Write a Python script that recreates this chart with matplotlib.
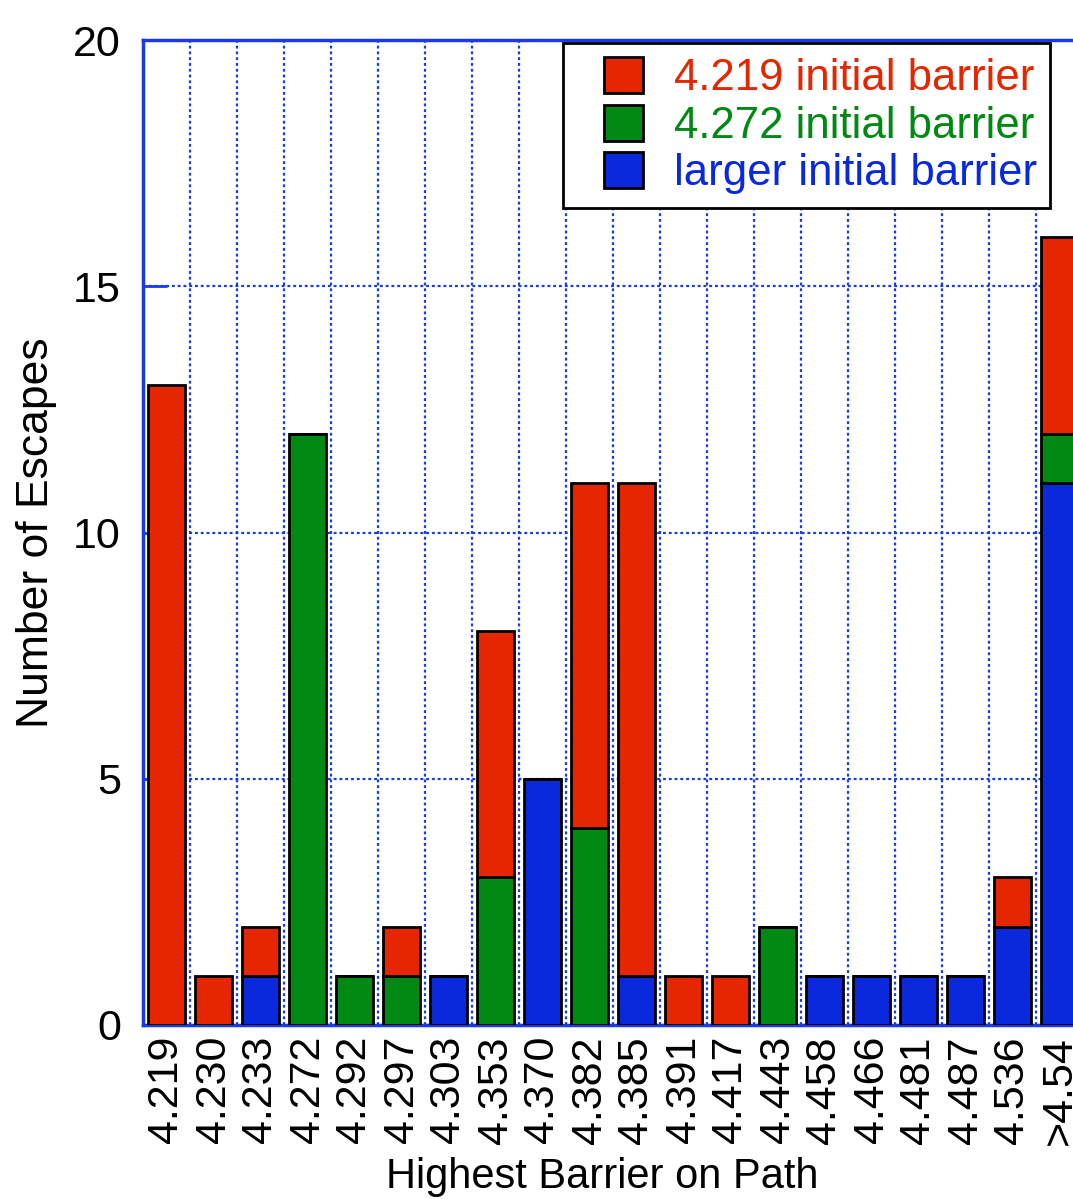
import numpy as np
import matplotlib
matplotlib.use("Agg")
import matplotlib.pyplot as plt
from matplotlib.patches import Rectangle
from matplotlib.ticker import MultipleLocator, FixedLocator

plt.rcParams['font.family'] = ['Liberation Sans', 'DejaVu Sans']

# Escape counts per highest barrier, split by initial barrier
barriers = ["4.219", "4.230", "4.233", "4.272", "4.292", "4.297", "4.303",
            "4.353", "4.370", "4.382", "4.385", "4.391", "4.417", "4.443",
            "4.458", "4.466", "4.481", "4.487", "4.536", ">4.54"]
larger_init = [0, 0, 1, 0, 0, 0, 1, 0, 5, 0, 1, 0, 0, 0, 1, 1, 1, 1, 2, 11]
init_4272 = [0, 0, 0, 12, 1, 1, 0, 3, 0, 4, 0, 0, 0, 2, 0, 0, 0, 0, 0, 1]
init_4219 = [13, 1, 1, 0, 0, 1, 0, 5, 0, 7, 10, 1, 1, 0, 0, 0, 0, 0, 1, 4]

RED = "#E62600"
GREEN = "#008A14"
BLUE = "#0A28DC"
GRID = "#1A3BE8"

W, H = 1073, 1199
fig = plt.figure(figsize=(W / 100, H / 100), dpi=100)
# axes runs slightly past the right edge of the figure
ax = fig.add_axes([143 / W, 1 - 1025 / H, 940 / W, 985 / H])

x = np.arange(len(barriers))
b = np.array(larger_init)
g = np.array(init_4272)
r = np.array(init_4219)

kw = dict(width=0.8, edgecolor="black", linewidth=2, zorder=3)
ax.bar(x, b, color=BLUE, label="larger initial barrier", **kw)
ax.bar(x, g, bottom=b, color=GREEN, label="4.272 initial barrier", **kw)
ax.bar(x, r, bottom=b + g, color=RED, label="4.219 initial barrier", **kw)

ax.set_xlim(-0.5, len(barriers) - 0.5)
ax.set_ylim(0, 20)

# grid on category boundaries and every 5 escapes
ax.xaxis.set_minor_locator(FixedLocator(np.arange(0.5, len(barriers) - 1, 1)))
ax.yaxis.set_major_locator(MultipleLocator(5))
dots = (0, (1.3, 1.3))
ax.grid(True, which="minor", axis="x", color=GRID, linestyle=dots,
        linewidth=1.6, zorder=0)
ax.grid(True, which="major", axis="y", color=GRID, linestyle=dots,
        linewidth=1.6, zorder=0)

ax.set_xticks(x)
ax.set_xticklabels(barriers, rotation=90, fontsize=31)
ax.tick_params(axis="x", which="both", length=0, pad=8)
ax.tick_params(axis="y", which="major", direction="in", length=17, width=2,
               color=GRID, labelsize=31, pad=16, right=True)

for s in ax.spines.values():
    s.set_color(GRID)
    s.set_linewidth(2.5)

ax.set_xlabel("Highest Barrier on Path", fontsize=30)
ax.xaxis.set_label_coords((602 - 143) / 940, -(1197 - 1025) / 985)
ax.xaxis.label.set_va("bottom")
ax.set_ylabel("Number of Escapes", fontsize=32)
ax.yaxis.set_label_coords(-(143 - 16) / 940, 0.5)
ax.yaxis.label.set_va("top")

# legend entries without frame, box drawn separately
handles, labels = ax.get_legend_handles_labels()
leg = fig.legend(handles[::-1], labels[::-1], loc="upper left",
                 bbox_to_anchor=(604 / W, 1 - 57 / H),
                 bbox_transform=fig.transFigure,
                 fontsize=31.5, frameon=False,
                 handlelength=0.9, handleheight=0.9, handletextpad=0.7,
                 labelspacing=0.12, borderpad=0, borderaxespad=0)
for txt, col in zip(leg.get_texts(), [RED, GREEN, BLUE]):
    txt.set_color(col)
leg.set_zorder(6)
box = Rectangle((563 / W, 1 - 208 / H), (1050 - 563) / W, 165 / H,
                transform=fig.transFigure, facecolor="white",
                edgecolor="black", linewidth=2, zorder=5)
fig.add_artist(box)

fig.savefig("out.png", dpi=100)
